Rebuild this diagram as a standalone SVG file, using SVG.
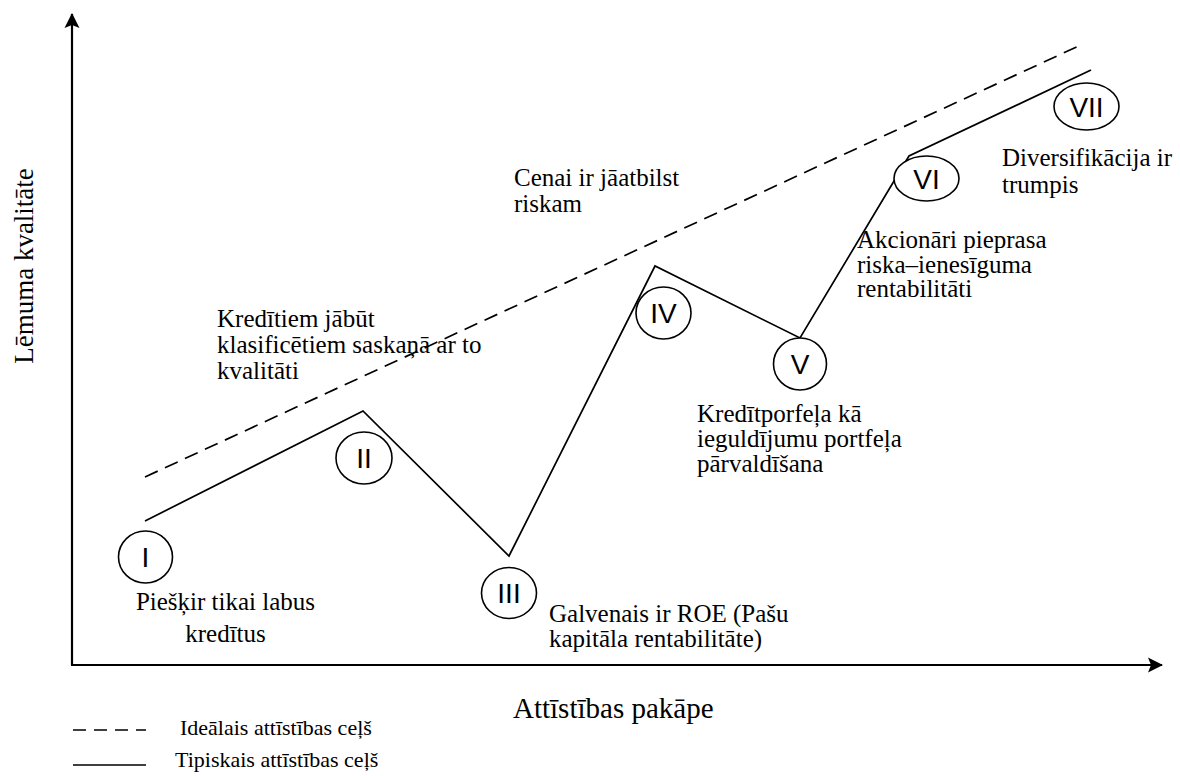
<svg xmlns="http://www.w3.org/2000/svg" width="1180" height="776" viewBox="0 0 1180 776">
  <style>
    .lbl { font-family: "Liberation Serif", "Times New Roman", serif; font-size: 25px; fill: #000; }
    .axis-lbl { font-family: "Liberation Serif", "Times New Roman", serif; font-size: 29px; fill: #000; }
    .legend { font-family: "Liberation Serif", "Times New Roman", serif; font-size: 22px; fill: #000; }
    .num { font-family: "Liberation Sans", Arial, sans-serif; font-size: 28px; fill: #000; text-anchor: middle; }
    .stage { fill: #fff; stroke: #000; stroke-width: 1.6; }
    .typical { fill: none; stroke: #000; stroke-width: 1.7; stroke-linejoin: miter; }
    .ideal { fill: none; stroke: #000; stroke-width: 1.7; stroke-dasharray: 14 8; }
    .axis { fill: none; stroke: #000; stroke-width: 2.2; }
  </style>
  <defs>
    <marker id="arrow" markerUnits="userSpaceOnUse" markerWidth="16" markerHeight="16" viewBox="0 0 16 16" refX="14" refY="8" orient="auto">
      <path d="M0,0.5 L15,8 L0,15.5 L3,8 Z" fill="#000"/>
    </marker>
  </defs>

  <rect width="1180" height="776" fill="#fff"/>

  <!-- axes -->
  <g id="axes">
    <line class="axis" x1="72" y1="665" x2="72" y2="14" marker-end="url(#arrow)"/>
    <line class="axis" x1="71" y1="665" x2="1162" y2="665" marker-end="url(#arrow)"/>
    <text class="axis-lbl" x="513" y="718">Attīstības pakāpe</text>
    <text class="axis-lbl" transform="translate(33,266) rotate(-90)" text-anchor="middle" style="font-size:27px">Lēmuma kvalitāte</text>
  </g>

  <!-- development paths -->
  <g id="connectors">
    <line class="ideal" x1="145" y1="477" x2="1083" y2="44"/>
    <polyline class="typical" points="145,521 363,411 509,556 655,266 800,338 909,156 1091,70"/>
  </g>

  <!-- stages -->
  <g id="stage-I">
    <ellipse class="stage" cx="145.5" cy="557" rx="27" ry="26"/>
    <text class="num" x="145.5" y="567">I</text>
  </g>
  <g id="stage-II">
    <ellipse class="stage" cx="364" cy="458" rx="28" ry="26"/>
    <text class="num" x="364" y="468">II</text>
  </g>
  <g id="stage-III">
    <ellipse class="stage" cx="509" cy="593" rx="27.5" ry="25.5"/>
    <text class="num" x="509" y="603">III</text>
  </g>
  <g id="stage-IV">
    <ellipse class="stage" cx="663.5" cy="313" rx="27.5" ry="26"/>
    <text class="num" x="663.5" y="323">IV</text>
  </g>
  <g id="stage-V">
    <ellipse class="stage" cx="800" cy="364" rx="26.5" ry="26"/>
    <text class="num" x="800" y="374">V</text>
  </g>
  <g id="stage-VI">
    <ellipse class="stage" cx="926.5" cy="178.5" rx="32.5" ry="22.5"/>
    <text class="num" x="926.5" y="188.5">VI</text>
  </g>
  <g id="stage-VII">
    <ellipse class="stage" cx="1086.5" cy="106.5" rx="32.5" ry="23.5"/>
    <text class="num" x="1086.5" y="116.5">VII</text>
  </g>

  <!-- stage descriptions -->
  <g id="text-I">
    <text class="lbl" text-anchor="middle"><tspan x="225.5" y="610">Piešķir tikai labus</tspan><tspan x="225.5" y="642">kredītus</tspan></text>
  </g>
  <g id="text-II">
    <text class="lbl"><tspan x="217" y="327">Kredītiem jābūt</tspan><tspan x="217" y="353">klasificētiem saskaņā ar to</tspan><tspan x="217" y="379">kvalitāti</tspan></text>
  </g>
  <g id="text-III">
    <text class="lbl"><tspan x="549" y="622">Galvenais ir ROE (Pašu</tspan><tspan x="549" y="647">kapitāla rentabilitāte)</tspan></text>
  </g>
  <g id="text-IV">
    <text class="lbl"><tspan x="514" y="186">Cenai ir jāatbilst</tspan><tspan x="514" y="212">riskam</tspan></text>
  </g>
  <g id="text-V">
    <text class="lbl"><tspan x="697" y="422">Kredītporfeļa kā</tspan><tspan x="697" y="447">ieguldījumu portfeļa</tspan><tspan x="697" y="472">pārvaldīšana</tspan></text>
  </g>
  <g id="text-VI">
    <text class="lbl"><tspan x="857" y="248">Akcionāri pieprasa</tspan><tspan x="857" y="273">riska–ienesīguma</tspan><tspan x="857" y="297">rentabilitāti</tspan></text>
  </g>
  <g id="text-VII">
    <text class="lbl"><tspan x="1002" y="166">Diversifikācija ir</tspan><tspan x="1002" y="193">trumpis</tspan></text>
  </g>

  <!-- legend -->
  <g id="legend">
    <line x1="73" y1="730" x2="146" y2="730" stroke="#000" stroke-width="1.6" stroke-dasharray="13 8"/>
    <line x1="73" y1="765" x2="146" y2="765" stroke="#000" stroke-width="1.6"/>
    <text class="legend" x="180" y="735">Ideālais attīstības ceļš</text>
    <text class="legend" x="175" y="767">Tipiskais attīstības ceļš</text>
  </g>
</svg>
